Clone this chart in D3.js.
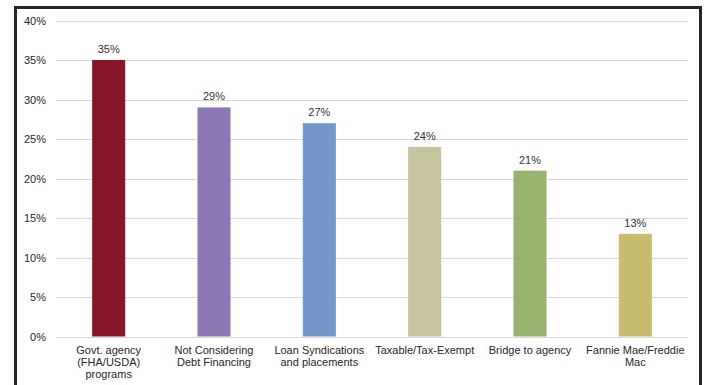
<!DOCTYPE html>
<html>
<head>
<meta charset="utf-8">
<script src="https://cdn.jsdelivr.net/npm/d3@7"></script>
<style>
  html, body { margin: 0; padding: 0; background: #fff; }
  svg { display: block; font-family: "Liberation Sans", Arial, sans-serif; }
</style>
</head>
<body>
<svg id="chart" width="704" height="385"></svg>
<script>
// Share of respondents by financing approach
const categories = [
  ["Govt. agency", "(FHA/USDA)", "programs"],
  ["Not Considering", "Debt Financing"],
  ["Loan Syndications", "and placements"],
  ["Taxable/Tax-Exempt"],
  ["Bridge to agency"],
  ["Fannie Mae/Freddie", "Mac"]
];
const values = [35, 29, 27, 24, 21, 13];
const barColors = ["#861628", "#8b78b4", "#7597c9", "#c6c49c", "#98b36e", "#c8bc6e"];
const yTicks = [0, 5, 10, 15, 20, 25, 30, 35, 40];

const svg = d3.select("#chart");
const W = 704, H = 385;
const plot = { left: 56, right: 688, top: 20.5, bottom: 336.5 };

// Outer frame
svg.append("rect")
  .attr("x", 15.5).attr("y", 7.5)
  .attr("width", 685).attr("height", 400)
  .attr("fill", "#fff")
  .attr("stroke", "#262626").attr("stroke-width", 3);

const keys = categories.map((c, i) => i);
const x = d3.scaleBand()
  .domain(keys)
  .range([plot.left, plot.right])
  .paddingInner(0.686)
  .paddingOuter(0.343);

const y = d3.scaleLinear()
  .domain([0, 40])
  .range([plot.bottom, plot.top]);

// Horizontal gridlines
svg.append("g")
  .selectAll("line")
  .data(yTicks)
  .join("line")
  .attr("x1", plot.left).attr("x2", plot.right)
  .attr("y1", d => Math.round(y(d)) + 0.5)
  .attr("y2", d => Math.round(y(d)) + 0.5)
  .attr("stroke", "#d9d9d9").attr("stroke-width", 1);

// Y axis labels
const yAxis = d3.axisLeft(y)
  .tickValues(yTicks)
  .tickFormat(d => d + "%")
  .tickSize(0)
  .tickPadding(0);
const gy = svg.append("g")
  .attr("transform", `translate(46,0)`)
  .call(yAxis);
gy.select(".domain").remove();
gy.selectAll("text")
  .attr("fill", "#262626")
  .style("font-size", "11px")
  .style("font-family", "'Liberation Sans', Arial, sans-serif");

// Bars
svg.append("g")
  .selectAll("rect")
  .data(values)
  .join("rect")
  .attr("x", (d, i) => x(i))
  .attr("width", x.bandwidth())
  .attr("y", d => y(d))
  .attr("height", d => y(0) - y(d))
  .attr("fill", (d, i) => barColors[i]);

// Value labels
svg.append("g")
  .selectAll("text")
  .data(values)
  .join("text")
  .attr("x", (d, i) => x(i) + x.bandwidth() / 2)
  .attr("y", d => y(d) - 7)
  .attr("text-anchor", "middle")
  .attr("fill", "#333")
  .style("font-size", "11px")
  .text(d => d + "%");

// Category labels
const xAxis = d3.axisBottom(x).tickSize(0).tickFormat("");
const gx = svg.append("g")
  .attr("transform", `translate(0,${plot.bottom})`)
  .call(xAxis);
gx.select(".domain").remove();

const catG = svg.append("g");
categories.forEach((lines, i) => {
  const t = catG.append("text")
    .attr("x", x(i) + x.bandwidth() / 2)
    .attr("y", 354)
    .attr("text-anchor", "middle")
    .attr("fill", "#262626")
    .style("font-size", "11px");
  lines.forEach((ln, j) => {
    t.append("tspan")
      .attr("x", x(i) + x.bandwidth() / 2)
      .attr("dy", j === 0 ? 0 : 12)
      .text(ln);
  });
});
</script>
</body>
</html>
